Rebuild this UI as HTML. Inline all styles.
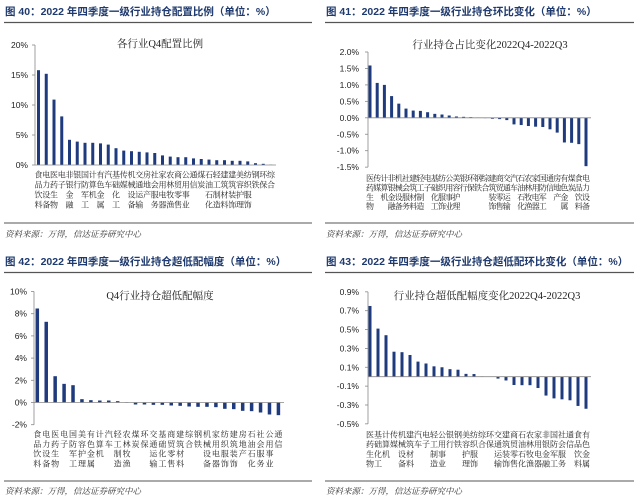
<!DOCTYPE html>
<html><head><meta charset="utf-8">
<style>
html,body{margin:0;padding:0;background:#fff;}
body{width:640px;height:498px;overflow:hidden;}
svg{display:block;}
.hdr{font-family:"Liberation Sans","Noto Sans CJK SC",sans-serif;font-weight:bold;font-size:10.5px;fill:#1f3a6e;}
.src{font-family:"Liberation Serif","Noto Serif CJK SC",serif;font-style:italic;font-size:8.5px;fill:#333;}
.ttl{font-family:"Liberation Serif","Noto Serif CJK SC",serif;font-size:10.5px;fill:#222;}
.tick{font-family:"Liberation Sans",sans-serif;font-size:8.5px;fill:#222;}
.cat{font-family:"Liberation Serif","Noto Serif CJK SC",serif;font-size:8px;fill:#222;}
</style></head>
<body>
<svg id="root" width="640" height="498" viewBox="0 0 640 498" xmlns="http://www.w3.org/2000/svg">
  <g>
    <text class="hdr" x="5" y="15">图 40：2022 年四季度一级行业持仓配置比例（单位：%）</text>
    <line x1="4" y1="22.5" x2="312" y2="22.5" stroke="#555" stroke-width="1.2"/>
    <text class="ttl" x="160" y="47" text-anchor="middle">各行业Q4配置比例</text>
    <line x1="4" y1="223" x2="312" y2="223" stroke="#555" stroke-width="1"/>
    <text class="src" x="5" y="237">资料来源：万得，信达证券研究中心</text>
  </g>
  <g>
    <text class="hdr" x="326" y="15">图 41：2022 年四季度一级行业持仓环比变化（单位：%）</text>
    <line x1="325" y1="22.5" x2="634" y2="22.5" stroke="#555" stroke-width="1.2"/>
    <text class="ttl" x="490" y="48" text-anchor="middle">行业持仓占比变化2022Q4-2022Q3</text>
    <line x1="325" y1="223" x2="634" y2="223" stroke="#555" stroke-width="1"/>
    <text class="src" x="326" y="237">资料来源：万得，信达证券研究中心</text>
  </g>
  <g>
    <text class="hdr" x="5" y="265">图 42：2022 年四季度一级行业持仓超低配幅度（单位：%）</text>
    <line x1="4" y1="272.5" x2="312" y2="272.5" stroke="#555" stroke-width="1.2"/>
    <text class="ttl" x="160" y="299" text-anchor="middle">Q4行业持仓超低配幅度</text>
    <line x1="4" y1="481" x2="312" y2="481" stroke="#555" stroke-width="1"/>
    <text class="src" x="5" y="494">资料来源：万得，信达证券研究中心</text>
  </g>
  <g>
    <text class="hdr" x="326" y="265">图 43：2022 年四季度一级行业持仓超低配环比变化（单位：%）</text>
    <line x1="325" y1="272.5" x2="634" y2="272.5" stroke="#555" stroke-width="1.2"/>
    <text class="ttl" x="487" y="299" text-anchor="middle">行业持仓超低配幅度变化2022Q4-2022Q3</text>
    <line x1="325" y1="481" x2="634" y2="481" stroke="#555" stroke-width="1"/>
    <text class="src" x="326" y="494">资料来源：万得，信达证券研究中心</text>
  </g>
</svg>
<script>
// ---- Fig 40 data ----
const cats40 = ["食品饮料","电力设备","医药生物","电子","非银金融","银行","国防军工","计算机","有色金属","汽车","基础化工","传媒","机械设备","交通运输","房地产","社会服务","家用电器","农林牧渔","商贸零售","公用事业","通信","煤炭","石油石化","轻工制造","建筑材料","建筑装饰","美容护理","纺织服饰","钢铁","环保","综合"];
const vals40 = [15.8,15.2,10.9,8.1,4.2,3.9,3.7,3.7,3.6,3.4,2.8,2.4,2.3,2.2,2.1,2.0,1.6,1.4,1.3,1.3,1.1,1.0,0.9,0.8,0.8,0.7,0.7,0.6,0.3,0.2,0.05];
const ticks40 = [0,5,10,15,20];
const tickLabels40 = ["0%","5%","10%","15%","20%"];
// ---- Fig 41 data ----
const cats41 = ["医药生物","传媒","计算机","非银金融","机械设备","社会服务","建筑材料","轻工制造","电子","基础化工","纺织服饰","公用事业","美容护理","银行","环保","钢铁","综合","建筑装饰","商贸零售","交通运输","汽车","石油石化","农林牧渔","家用电器","国防军工","通信","房地产","有色金属","煤炭","食品饮料","电力设备"];
const vals41 = [1.59,1.06,1.0,0.66,0.43,0.28,0.22,0.21,0.17,0.12,0.1,0.07,0.04,0.03,0.02,0.01,0.0,-0.03,-0.04,-0.07,-0.2,-0.22,-0.25,-0.27,-0.28,-0.35,-0.45,-0.75,-0.76,-0.8,-1.47];
const ticks41 = [-1.5,-1.0,-0.5,0,0.5,1.0,1.5,2.0];
const tickLabels41 = ["-1.5%","-1.0%","-0.5%","0.0%","0.5%","1.0%","1.5%","2.0%"];
// ---- Fig 42 data ----
const cats42 = ["食品饮料","电力设备","医药生物","电子","国防军工","美容护理","有色金属","计算机","汽车","轻工制造","农林牧渔","煤炭","环保","交通运输","基础化工","商贸零售","建筑材料","综合","钢铁","机械设备","家用电器","纺织服饰","建筑装饰","房地产","石油石化","社会服务","公用事业","通信"];
const vals42 = [8.47,7.27,2.37,1.68,1.56,0.3,0.21,0.18,0.18,0.12,0.0,-0.18,-0.18,-0.21,-0.21,-0.27,-0.3,-0.36,-0.39,-0.39,-0.42,-0.57,-0.6,-0.75,-0.78,-0.9,-1.08,-1.14];
const ticks42 = [-2,0,2,4,6,8,10];
const tickLabels42 = ["-2%","0%","2%","4%","6%","8%","10%"];
// ---- Fig 43 data ----
const cats43 = ["医药生物","基础化工","计算机","传媒","机械设备","建筑材料","汽车","电子","轻工制造","公用事业","银行","钢铁","美容护理","纺织服饰","综合","环保","交通运输","建筑装饰","商贸零售","石油石化","农林牧渔","家用电器","非银金融","国防军工","社会服务","通信","食品饮料","有色金属"];
const vals43 = [0.75,0.51,0.44,0.265,0.26,0.23,0.16,0.14,0.11,0.1,0.08,0.074,0.03,0.028,0.003,-0.003,-0.02,-0.04,-0.088,-0.09,-0.09,-0.12,-0.2,-0.23,-0.24,-0.25,-0.31,-0.34];
const ticks43 = [-0.5,-0.3,-0.1,0.1,0.3,0.5,0.7,0.9];
const tickLabels43 = ["-0.5%","-0.3%","-0.1%","0.1%","0.3%","0.5%","0.7%","0.9%"];

const NS = "http://www.w3.org/2000/svg";
const root = document.getElementById('root');
function mk(tag, attrs, parent){const e=document.createElementNS(NS,tag);for(const k in attrs)e.setAttribute(k,attrs[k]);parent.appendChild(e);return e;}

function drawChart(id, cats, vals, ticks, tlabels, cfg){
  const g = mk('g',{},root);
  
  
  const yScale = v => cfg.zeroY - v*cfg.pxPer;
  const xScale = i => cfg.x0 + i*cfg.step;
  const yTop = yScale(ticks[ticks.length-1]), yBot = yScale(ticks[0]);
  // y axis
  const ax = mk('line',{x1:cfg.axisX,y1:yTop,x2:cfg.axisX,y2:yBot,stroke:'#888','stroke-width':0.8},g);
  
  
  ticks.forEach((t,k)=>{
    const y=yScale(t);
    const tm=mk('line',{x1:cfg.axisX-3,y1:y,x2:cfg.axisX,y2:y,stroke:'#888','stroke-width':0.8},g);
    
    
    const tl=mk('text',{x:cfg.tickRight,y:y+3,'text-anchor':'end','class':'tick'},g);
    tl.textContent=tlabels[k];
    
    
  });
  // bars
  vals.forEach((v,i)=>{
    const x=xScale(i), y0=yScale(0), y1=yScale(v);
    const r=mk('rect',{x:x-cfg.bw/2,y:Math.min(y0,y1),width:cfg.bw,height:Math.max(Math.abs(y1-y0),0.3),fill:'#1f3b7d'},g);
    
    
  });
  // zero axis
  const zx=mk('line',{x1:cfg.axisX,y1:yScale(0),x2:cfg.xEnd,y2:yScale(0),stroke:'#888','stroke-width':0.8},g);
  
  
  // category labels (vertical stacks)
  cats.forEach((c,i)=>{
    const t=mk('text',{'class':'cat','text-anchor':'middle'},g);
    
    
    [...c].forEach((ch,j)=>{
      const s=mk('tspan',{x:xScale(i),y:cfg.labY+j*cfg.labStep},t);
      s.textContent=ch;
    });
  });
}

drawChart('fig40',cats40,vals40,ticks40,tickLabels40,{zeroY:165,pxPer:6,x0:38.5,step:7.75,axisX:35,xEnd:276,tickRight:28,bw:3,labY:177.5,labStep:10});
drawChart('fig41',cats41,vals41,ticks41,tickLabels41,{zeroY:117.8,pxPer:32.9,x0:370,step:7.2,axisX:368,xEnd:591,tickRight:359,bw:3,labY:181,labStep:9.4});
drawChart('fig42',cats42,vals42,ticks42,tickLabels42,{zeroY:402.5,pxPer:11.1,x0:37.3,step:8.93,axisX:34,xEnd:284,tickRight:27,bw:3.5,labY:437,labStep:9.8});
drawChart('fig43',cats43,vals43,ticks43,tickLabels43,{zeroY:376.7,pxPer:94.3,x0:370,step:8.0,axisX:368,xEnd:591,tickRight:359,bw:3,labY:437.5,labStep:9.7});
</script>
</body></html>
